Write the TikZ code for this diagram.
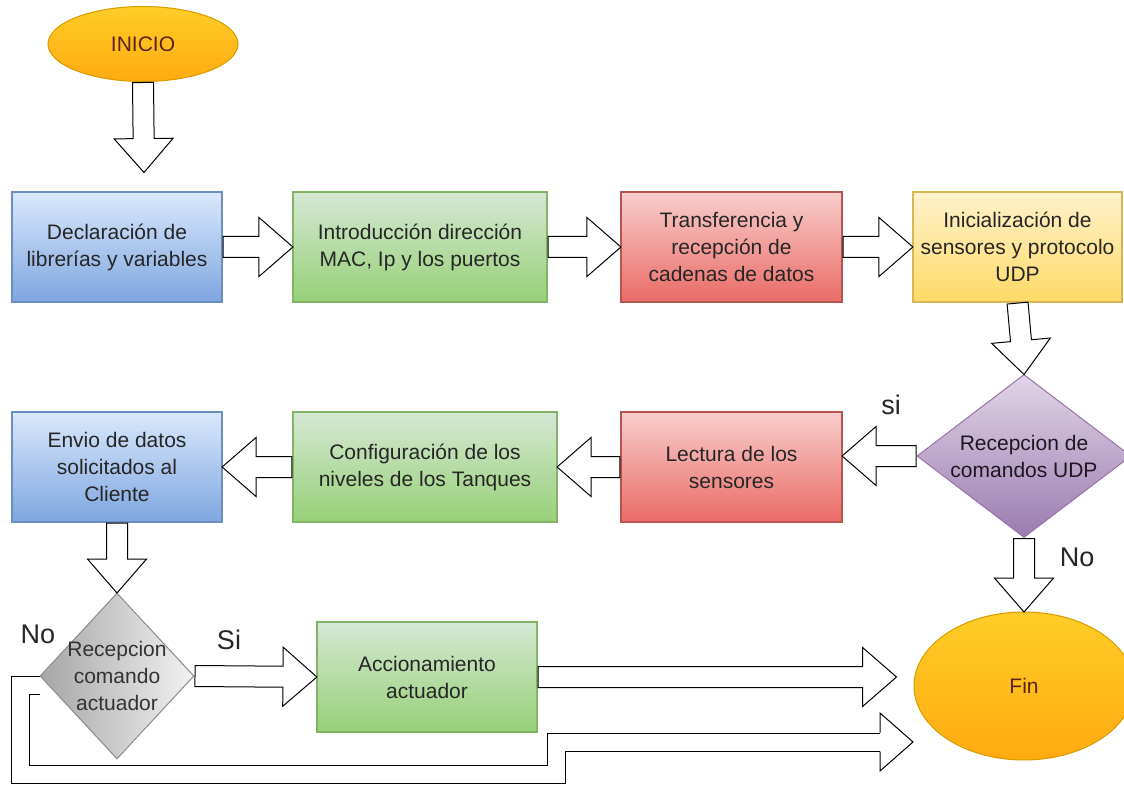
\documentclass[tikz,border=0pt]{standalone}
\usepackage{fontspec}
\setmainfont{Liberation Sans}
\usetikzlibrary{shapes.geometric,shapes.arrows,calc}

\definecolor{blueTop}{HTML}{DAE8FC}
\definecolor{blueBot}{HTML}{7EA6E0}
\definecolor{blueLine}{HTML}{6C8EBF}
\definecolor{greenTop}{HTML}{D5E8D4}
\definecolor{greenBot}{HTML}{97D077}
\definecolor{greenLine}{HTML}{82B366}
\definecolor{redTop}{HTML}{F8CECC}
\definecolor{redBot}{HTML}{EA6B66}
\definecolor{redLine}{HTML}{B85450}
\definecolor{yellowTop}{HTML}{FFF2CC}
\definecolor{yellowBot}{HTML}{FFD966}
\definecolor{yellowLine}{HTML}{D6B656}
\definecolor{purpleTop}{HTML}{E1D5E7}
\definecolor{purpleBot}{HTML}{9A7BB0}
\definecolor{purpleLine}{HTML}{9673A6}
\definecolor{grayL}{HTML}{A6A6A6}
\definecolor{grayR}{HTML}{F2F2F2}
\definecolor{grayLine}{HTML}{8C8C8C}
\definecolor{orangeTop}{HTML}{FFCD28}
\definecolor{orangeBot}{HTML}{FFAA10}
\definecolor{orangeLine}{HTML}{D79B00}
\definecolor{termText}{HTML}{5C2418}

% hollow block arrow between two points
\newcommand{\blockarrow}[2]{%
  \path let \p1=(#1), \p2=(#2), \n1={veclen(\x2-\x1,\y2-\y1)} in
    (\p1) -- (\p2) node[barrow, pos=0, anchor=tail, sloped, allow upside down, minimum height=\n1] {};}

\begin{document}
\begin{tikzpicture}[x=1pt,y=-1pt,
  box/.style={rectangle, line width=1.2pt, minimum height=110, align=center,
    inner sep=2pt, font=\fontsize{21}{27}\selectfont, text=black!85},
  bluebox/.style={box, draw=blueLine, top color=blueTop, bottom color=blueBot},
  greenbox/.style={box, draw=greenLine, top color=greenTop, bottom color=greenBot},
  redbox/.style={box, draw=redLine, top color=redTop, bottom color=redBot},
  yellowbox/.style={box, draw=yellowLine, top color=yellowTop, bottom color=yellowBot},
  term/.style={ellipse, line width=1pt, draw=orangeLine, top color=orangeTop,
    bottom color=orangeBot, inner sep=0pt, font=\fontsize{21}{24}\selectfont, text=termText},
  decision/.style={diamond, line width=1pt, inner sep=0pt},
  dtext/.style={align=center, font=\fontsize{21}{27}\selectfont},
  barrow/.style={single arrow, draw=black, fill=white, line width=1pt, inner xsep=0pt,
    inner ysep=10pt, single arrow head extend=19, single arrow tip angle=82},
  answer/.style={font=\fontsize{27}{30}\selectfont, text=black!85}]
\fill[white] (0,0) rectangle (1124,786);
\useasboundingbox (0,0) rectangle (1124,786);

% first row
\node[term, minimum width=190, minimum height=75] (inicio) at (143,44) {INICIO};
\node[bluebox, minimum width=210] (decl) at (117,247) {Declaración de\\librerías y variables};
\node[greenbox, minimum width=254] (intro) at (420,247) {Introducción dirección\\MAC, Ip y los puertos};
\node[redbox, minimum width=221] (trans) at (731.5,247) {Transferencia y\\recepción de\\cadenas de datos};
\node[yellowbox, minimum width=209] (inic) at (1017.5,247) {Inicialización de\\sensores y protocolo\\UDP};

% second row
\node[decision, draw=purpleLine, top color=purpleTop, bottom color=purpleBot,
  minimum width=214, minimum height=163] (rudp) at (1024,456) {};
\node[dtext, text=black!80!purpleLine] at (rudp) {Recepcion de\\comandos UDP};
\node[redbox, minimum width=221] (lectura) at (731.5,467) {Lectura de los\\sensores};
\node[greenbox, minimum width=264] (config) at (425,467) {Configuración de los\\niveles de los Tanques};
\node[bluebox, minimum width=210] (envio) at (117,467) {Envio de datos\\solicitados al\\Cliente};

% third row
\node[decision, draw=grayLine, left color=grayL, right color=grayR,
  minimum width=154, minimum height=166] (ract) at (117,676) {};
\node[dtext, text=black!80] at (ract) {Recepcion\\comando\\actuador};
\node[greenbox, minimum width=220] (accion) at (427,677) {Accionamiento\\actuador};
\node[term, minimum width=220, minimum height=148] (fin) at (1024,686) {Fin};

\coordinate (t1) at (144,172);
\coordinate (f1) at (896,677);
\coordinate (f2) at (913,742);

\blockarrow{inicio.south}{t1}
\blockarrow{decl.east}{intro.west}
\blockarrow{intro.east}{trans.west}
\blockarrow{trans.east}{inic.west}
\blockarrow{inic.south}{rudp.north}
\blockarrow{rudp.west}{lectura.east |- rudp.west}
\blockarrow{lectura.west}{config.east}
\blockarrow{config.west}{envio.east}
\blockarrow{envio.south}{ract.north}
\blockarrow{rudp.south}{fin.north}
\blockarrow{ract.east}{accion.west}
\blockarrow{accion.east}{f1}

% loop back when no command arrives
\draw[line width=1pt, double=white, double distance=17]
  ($(ract.west)+(0,9)$) -| (20,774) -| (556,742) -- ($(f2)+(-33,0)$);
\filldraw[line width=1pt, fill=white] ($(f2)+(-33,-9.5)$) -- ($(f2)+(-33,-29)$)
  -- (f2) -- ($(f2)+(-33,29)$) -- ($(f2)+(-33,9.5)$);

\node[answer] (lsi) at (891,405) {si};
\node[answer] (lno) at (1077,557) {No};
\node[answer] (lnoact) at (38,634) {No};
\node[answer] (lsiact) at (229,640) {Si};
\end{tikzpicture}
\end{document}
